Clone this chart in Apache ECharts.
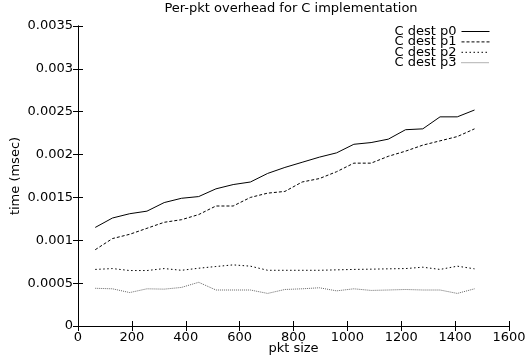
<!DOCTYPE html>
<html>
<head>
<meta charset="utf-8">
<script src="https://cdn.jsdelivr.net/npm/echarts@6/dist/echarts.min.js"></script>
<style>
  html, body { margin: 0; padding: 0; background: #fff; }
  #main { width: 527px; height: 362px; }
</style>
</head>
<body>
<div id="main"></div>
<script>
// packet sizes (x) and per-packet overhead in msec for each destination
var pktSize = [64, 128, 192, 256, 320, 384, 448, 512, 576, 640, 704, 768,
  832, 896, 960, 1024, 1088, 1152, 1216, 1280, 1344, 1408, 1472];
var destP0 = [0.00115, 0.00126, 0.00131, 0.00134, 0.00144, 0.00149, 0.00151, 0.0016,
  0.00165, 0.00168, 0.00178, 0.00185, 0.00191, 0.00197, 0.00202, 0.00212, 0.00214,
  0.00218, 0.00229, 0.0023, 0.00244, 0.00244, 0.00252];
var destP1 = [0.00089, 0.00102, 0.00107, 0.00114, 0.00121, 0.00124, 0.0013, 0.0014,
  0.0014, 0.0015, 0.00155, 0.00157, 0.00168, 0.00172, 0.0018, 0.0019, 0.0019,
  0.00198, 0.00204, 0.00211, 0.00216, 0.00221, 0.0023];
var destP2 = [0.00066, 0.00067, 0.000647, 0.000647, 0.00067, 0.00065, 0.000674, 0.000694,
  0.000713, 0.000698, 0.00065, 0.00065, 0.00065, 0.00065, 0.000655, 0.00066, 0.000663,
  0.000667, 0.00067, 0.000686, 0.00066, 0.000698, 0.000667];
var destP3 = [0.00044, 0.000434, 0.00039, 0.000434, 0.00043, 0.00045, 0.00051, 0.00042,
  0.00042, 0.00042, 0.00038, 0.000426, 0.000434, 0.000446, 0.00041, 0.000434, 0.000415,
  0.00042, 0.000426, 0.00042, 0.00042, 0.00038, 0.000434];
var seriesNames = ['C dest p0', 'C dest p1', 'C dest p2', 'C dest p3'];

// gnuplot's output is a bit wide, DejaVu Sans gets close to it
var font = 'DejaVu Sans, Liberation Sans, sans-serif';

function pairs(ys) {
  return pktSize.map(function (x, i) { return [x, ys[i]]; });
}

var myChart = echarts.init(document.getElementById('main'));

var tickStyle = { show: true, inside: true, length: 5, lineStyle: { color: '#000' } };
var lineStyleAxis = { show: true, lineStyle: { color: '#000', width: 1 } };

myChart.setOption({
  animation: false,
  textStyle: { fontFamily: font },
  title: {
    text: 'Per-pkt overhead for C implementation',
    left: 291, top: 2, padding: 0, textAlign: 'center',
    textStyle: { fontSize: 13, fontWeight: 'normal', color: '#000', fontFamily: font }
  },
  legend: {
    orient: 'vertical',
    align: 'right',
    right: 32, top: 20,
    itemWidth: 28, itemHeight: 10, itemGap: -2.6,
    itemStyle: { opacity: 0 },
    lineStyle: { width: 1 },
    textStyle: { fontSize: 13, color: '#000', fontFamily: font },
    data: seriesNames
  },
  grid: { left: 78, right: 18, top: 26, bottom: 36, outerBoundsMode: 'none' },
  xAxis: [{
    type: 'value', min: 0, max: 1600, interval: 200,
    name: 'pkt size', nameLocation: 'middle', nameGap: 16, nameMoveOverlap: false,
    nameTextStyle: { fontSize: 13, color: '#000' },
    axisLine: lineStyleAxis, axisTick: tickStyle,
    axisLabel: { fontSize: 13, color: '#000', margin: 5, formatter: function (v) { return String(v); } },
    splitLine: { show: false }
  }, {
    type: 'value', position: 'top', min: 0, max: 1600, interval: 200,
    axisLine: lineStyleAxis, axisTick: tickStyle,
    axisLabel: { show: false }, splitLine: { show: false }
  }],
  yAxis: [{
    type: 'value', min: 0, max: 0.0035, interval: 0.0005,
    name: 'time (msec)', nameLocation: 'middle', nameGap: 56, nameMoveOverlap: false,
    nameTextStyle: { fontSize: 13, color: '#000' },
    axisLine: lineStyleAxis, axisTick: tickStyle,
    axisLabel: {
      fontSize: 13, color: '#000', margin: 5,
      formatter: function (v) { return String(+v.toFixed(4)); }
    },
    splitLine: { show: false }
  }, {
    type: 'value', position: 'right', min: 0, max: 0.0035, interval: 0.0005,
    axisLine: lineStyleAxis, axisTick: tickStyle,
    axisLabel: { show: false }, splitLine: { show: false }
  }],
  series: [
    {
      name: seriesNames[0], type: 'line', data: pairs(destP0), symbol: 'none',
      color: '#000', lineStyle: { color: '#000', width: 1 }
    },
    {
      name: seriesNames[1], type: 'line', data: pairs(destP1), symbol: 'none',
      color: '#000', lineStyle: { color: '#000', width: 1, type: [3, 2] }
    },
    {
      name: seriesNames[2], type: 'line', data: pairs(destP2), symbol: 'none',
      color: '#000', lineStyle: { color: '#000', width: 1, type: [1.5, 2.5] }
    },
    {
      name: seriesNames[3], type: 'line', data: pairs(destP3), symbol: 'none',
      color: '#666', lineStyle: { color: '#666', width: 1, type: [1, 1] }
    }
  ]
});
</script>
</body>
</html>
